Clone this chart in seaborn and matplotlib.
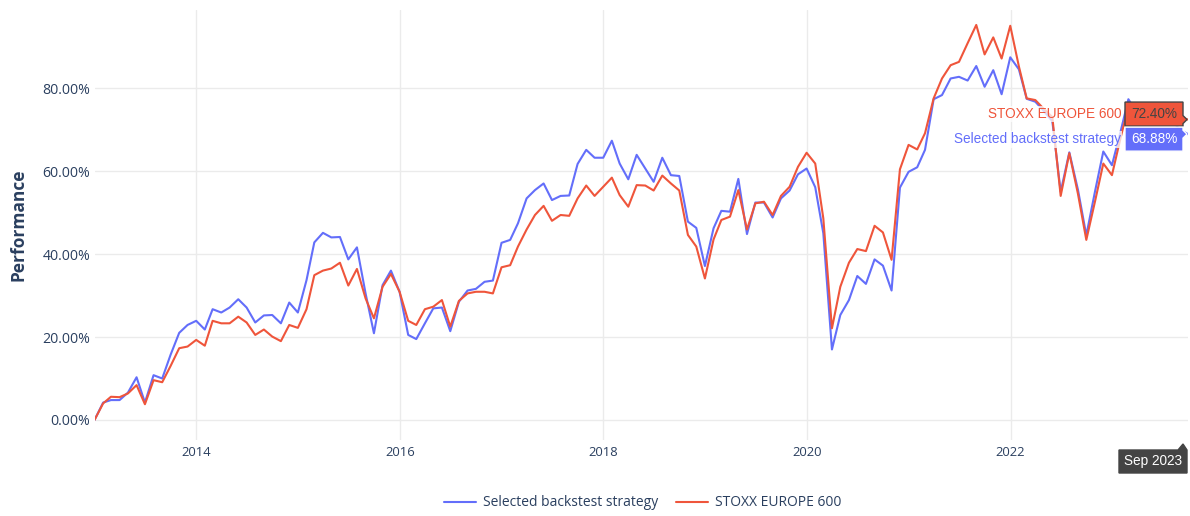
import numpy as np
import pandas as pd
import matplotlib
matplotlib.use("Agg")
import matplotlib.pyplot as plt
import matplotlib.dates as mdates
from matplotlib.patches import Polygon
from matplotlib.lines import Line2D
from matplotlib.transforms import IdentityTransform
import seaborn as sns

# ---------------- data ----------------
start_date = "2012-12-31"
series_names = ["Selected backstest strategy", "STOXX EUROPE 600"]

strategy = [
    0.0, 4.2, 4.8, 4.8, 6.6, 10.3, 4.2, 10.8, 10.0, 15.7, 21.0, 22.9,
    23.9, 21.8, 26.7, 25.9, 27.1, 29.1, 27.1, 23.5, 25.2, 25.3, 23.3, 28.3,
    25.9, 33.7, 42.8, 45.1, 44.0, 44.1, 38.7, 41.6, 30.5, 20.9, 32.5, 36.0,
    30.9, 20.5, 19.5, 23.3, 26.9, 27.1, 21.4, 28.5, 31.2, 31.6, 33.3, 33.6,
    42.7, 43.4, 47.4, 53.4, 55.4, 57.0, 53.0, 54.0, 54.1, 61.7, 65.1, 63.2,
    63.2, 67.3, 61.8, 58.0, 63.9, 60.6, 57.4, 63.2, 59.0, 58.8, 47.8, 46.3,
    37.1, 46.2, 50.4, 50.2, 58.1, 44.8, 52.4, 52.4, 48.8, 53.4, 55.3, 59.2,
    60.6, 56.1, 45.0, 17.0, 25.3, 28.9, 34.7, 32.8, 38.7, 37.2, 31.2, 56.0,
    59.8, 60.9, 65.1, 77.3, 78.3, 82.3, 82.7, 81.8, 85.3, 80.3, 84.3, 78.5,
    87.4, 84.5, 77.4, 76.7, 74.5, 72.0, 55.0, 64.5, 55.5, 44.5, 55.0, 64.7,
    61.4, 69.5, 77.3, 74.0, 73.0, 71.5, 72.0, 72.5, 70.0, 68.88,
]

stoxx = [
    0.0, 4.0, 5.6, 5.5, 6.4, 8.4, 3.8, 9.6, 9.1, 13.0, 17.3, 17.7,
    19.3, 17.9, 23.9, 23.3, 23.3, 24.9, 23.5, 20.5, 21.8, 20.1, 19.0, 22.9,
    22.2, 26.7, 34.9, 36.0, 36.5, 37.9, 32.4, 36.4, 29.3, 24.5, 32.1, 35.2,
    30.9, 23.9, 22.9, 26.7, 27.3, 28.9, 22.5, 28.7, 30.5, 30.9, 30.9, 30.5,
    36.8, 37.3, 41.8, 45.9, 49.4, 51.6, 48.0, 49.4, 49.2, 53.4, 56.5, 54.0,
    56.2, 58.4, 54.2, 51.4, 56.6, 56.5, 55.3, 58.9, 57.0, 55.3, 44.6, 41.8,
    34.1, 43.5, 48.2, 49.0, 55.4, 45.9, 52.2, 52.6, 49.4, 54.0, 56.2, 61.0,
    64.4, 61.8, 48.6, 22.1, 32.1, 37.9, 41.2, 40.7, 46.8, 45.2, 38.6, 60.4,
    66.3, 65.2, 69.1, 77.5, 82.3, 85.5, 86.3, 90.8, 95.2, 88.1, 92.2, 87.1,
    95.0, 85.2, 77.5, 77.1, 75.0, 73.0, 54.0, 64.3, 54.5, 43.4, 52.6, 61.8,
    59.0, 68.0, 75.5, 73.0, 74.0, 73.5, 74.0, 74.5, 73.0, 72.40,
]

y_ticks = [0, 20, 40, 60, 80]
x_tick_years = [2014, 2016, 2018, 2020, 2022]

# ---------------- styling ----------------
colors = ["#636EFA", "#EF553B"]
text_color = "#2a3f5f"
grid_color = "#ebebeb"
W, H = 1190, 516

dates = pd.date_range(start_date, periods=len(strategy), freq="ME")
df = pd.DataFrame({
    "date": list(dates) + list(dates),
    "value": strategy + stoxx,
    "series": [series_names[0]] * len(strategy) + [series_names[1]] * len(stoxx),
})

sns.set_theme(style="white")
plt.rcParams["font.family"] = ["Open Sans", "DejaVu Sans"]

fig = plt.figure(figsize=(W / 100, H / 100), dpi=100)
ax_left, ax_right, ax_top, ax_bottom = 94.5, 1188, 10, 440
ax = fig.add_axes([ax_left / W, (H - ax_bottom) / H,
                   (ax_right - ax_left) / W, (ax_bottom - ax_top) / H])

sns.lineplot(data=df, x="date", y="value", hue="series",
             hue_order=series_names, palette=colors, linewidth=1.5,
             ax=ax, legend=False)

ax.set_xlim(dates[0], dates[-1])
ax.set_ylim(-4.82, 98.8)
ax.set_yticks(y_ticks)
ax.set_yticklabels([f"{v:.2f}%" for v in y_ticks])
ax.set_xticks([pd.Timestamp(f"{y}-01-01") for y in x_tick_years])
ax.xaxis.set_major_formatter(mdates.DateFormatter("%Y"))
ax.tick_params(axis="both", length=0, colors=text_color)
ax.tick_params(axis="x", pad=4, labelsize=9.4)
ax.tick_params(axis="y", pad=3, labelsize=10.2)
for s in ax.spines.values():
    s.set_visible(False)
ax.grid(True, color=grid_color, linewidth=1)
ax.set_axisbelow(True)
ax.set_xlabel("")
ax.set_ylabel("Performance", fontweight="bold", fontsize=12.5, color=text_color)
ax.yaxis.set_label_coords(-0.061, 0.5)

# legend
handles = [Line2D([], [], color=c, linewidth=1.5) for c in colors]
fig.legend(handles, series_names, loc="center", bbox_to_anchor=(643 / W, 1 - 503 / H),
           ncol=2, frameon=False, fontsize=10.0, handlelength=2.3,
           columnspacing=1.3, handletextpad=0.5, labelcolor=text_color)

# ---------------- hover labels (decoration) ----------------
ident = IdentityTransform()
hover_font = ["Liberation Sans", "Arial", "DejaVu Sans"]


def to_img(xd, yd):
    px, py = ax.transData.transform((mdates.date2num(xd), yd))
    return px, H - py


def poly_img(pts, **kw):
    p = Polygon([(x, H - y) for x, y in pts], closed=True, transform=ident, **kw)
    fig.add_artist(p)


def text_img(x, y, s, **kw):
    fig.text(x, H - y, s, transform=ident, family=hover_font, **kw)


last = dates[-1]
specs = [
    (stoxx[-1], series_names[1], colors[1], "#444444", "#444444", -5.5),
    (strategy[-1], series_names[0], colors[0], "white", "white", 5.0),
]
for val, name, col, txtcol, edgecol, dy in specs:
    xp, yp = to_img(last, val)
    x1 = xp - 5
    x0 = x1 - 58
    cy = yp + dy
    top, bot = cy - 12, cy + 12
    poly_img([(x0, top), (x1, top), (x1, yp - 4), (xp - 1, yp), (x1, yp + 4),
              (x1, bot), (x0, bot)], facecolor=col, edgecolor=edgecol,
             linewidth=1, zorder=10)
    text_img((x0 + x1) / 2, cy, f"{val:.2f}%", ha="center", va="center",
             color=txtcol, fontsize=9.8, zorder=11)
    text_img(x0 - 4, cy, name, ha="right", va="center", color=col, fontsize=9.8,
             zorder=11,
             bbox=dict(boxstyle="square,pad=0.1", facecolor="white",
                       edgecolor="none", alpha=0.75))

# x hover label
xp, _ = to_img(last, 0)
bx1 = xp - 1
bx0 = bx1 - 68
btop, bbot = 450, 473
poly_img([(bx0, btop), (bx1 - 9, btop), (bx1 - 4, btop - 6), (bx1, btop),
          (bx1, bbot), (bx0, bbot)], facecolor="#444444", edgecolor="#444444",
         linewidth=1, zorder=10)
text_img((bx0 + bx1) / 2, (btop + bbot) / 2, last.strftime("%b %Y"),
         ha="center", va="center", color="white", fontsize=9.8, zorder=11)

fig.savefig("out.png", dpi=100)
